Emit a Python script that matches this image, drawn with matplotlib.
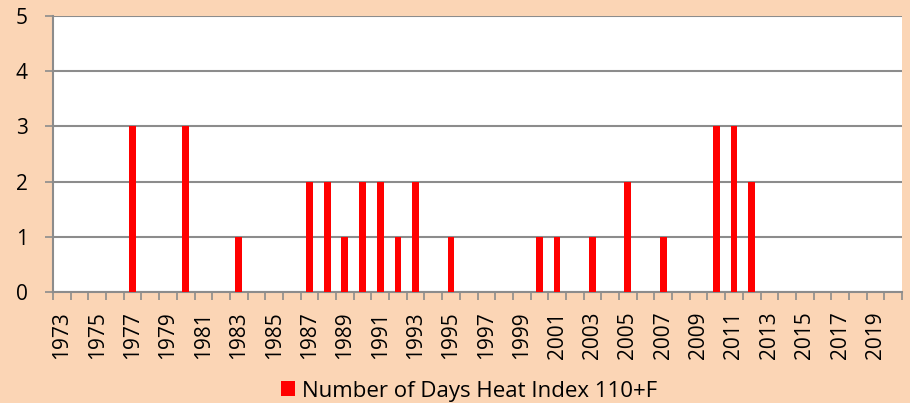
import matplotlib
matplotlib.use("Agg")
import matplotlib.pyplot as plt
import numpy as np

years = list(range(1973, 2021))
bar_years = [1977, 1980, 1983, 1987, 1988, 1989, 1990, 1991, 1992, 1993, 1995,
             2000, 2001, 2003, 2005, 2007, 2010, 2011, 2012]
bar_values = [3, 3, 1, 2, 2, 1, 2, 2, 1, 2, 1, 1, 1, 1, 2, 1, 3, 3, 2]
series_label = "Number of Days Heat Index 110+F"
y_ticks = [0, 1, 2, 3, 4, 5]

values = [bar_values[bar_years.index(y)] if y in bar_years else 0 for y in years]

plt.rcParams['font.family'] = ['Open Sans', 'DejaVu Sans']

bg = '#FBD5B5'
grid_c = '#8C8C8C'
fig = plt.figure(figsize=(9.10, 4.03), dpi=100, facecolor=bg)
ax = fig.add_axes([53/910, 1-292/403, (902-53)/910, (292-16)/403])
ax.set_facecolor('white')

x = np.arange(len(years))
ax.bar(x, values, width=0.38, color='#FF0000', label=series_label, zorder=3)

ax.set_xlim(-0.5, len(years) - 0.5)
ax.set_ylim(0, 5)
ax.set_yticks(y_ticks)
ax.set_yticklabels([str(v) for v in y_ticks], fontsize=15)
ax.yaxis.grid(True, color=grid_c, linewidth=1.5, zorder=0)
ax.tick_params(axis='y', length=6, width=1.2, color=grid_c, pad=12)

ax.set_xticks(x)
ax.set_xticklabels([str(y) if (y - 1973) % 2 == 0 else '' for y in years],
                   rotation=90, fontsize=15)
ax.tick_params(axis='x', length=0, pad=14)
ax.set_xticks(np.arange(-0.5, len(years), 1.0), minor=True)
ax.tick_params(axis='x', which='minor', length=6, width=1.2, color=grid_c)

for s in ['top', 'right']:
    ax.spines[s].set_visible(False)
for s in ['left', 'bottom']:
    ax.spines[s].set_color(grid_c)
    ax.spines[s].set_linewidth(1.5)

leg = fig.legend(loc='center', bbox_to_anchor=(469/910, 1-391/403), frameon=False,
                 fontsize=16, handlelength=0.65, handleheight=0.65, handletextpad=0.3)

fig.savefig('out.png', dpi=100, facecolor=bg)
